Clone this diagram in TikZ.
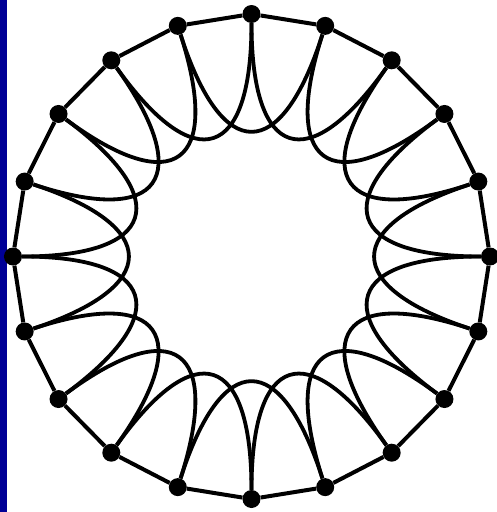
\documentclass[tikz,border=0pt]{standalone}
\usepackage{tikz}

\definecolor{stripblue}{RGB}{0,0,150}

\begin{document}
\begin{tikzpicture}[x=1pt,y=1pt,
  vertex/.style={circle, fill=black, inner sep=0pt, minimum size=18pt},
  rimedge/.style={line width=4pt},
  loopedge/.style={line width=3.8pt}]

\useasboundingbox (-251.5,-255.5) rectangle (245.5,256.5);

% Blue strip
\fill[stripblue] (-251.5,-255.5) rectangle (-244.5,256.5);

% Vertices and control points
\foreach \i in {0,...,19} {
  \pgfmathsetmacro{\a}{90-18*\i}
  \node[vertex] (v\i) at (\a:238.5 and 242.5) {};
  \coordinate (c\i) at (\a:95.4 and 97);
}

% Outer cycle
\foreach \i [evaluate=\i as \j using {int(mod(\i+1,20))}] in {0,...,19}
  \draw[rimedge] (v\i) -- (v\j);

% Inner loops
\foreach \i [evaluate=\i as \k using {int(mod(\i+2,20))}] in {0,...,19}
  \draw[loopedge] (v\i) .. controls (c\i) and (c\k) .. (v\k);

\end{tikzpicture}
\end{document}
